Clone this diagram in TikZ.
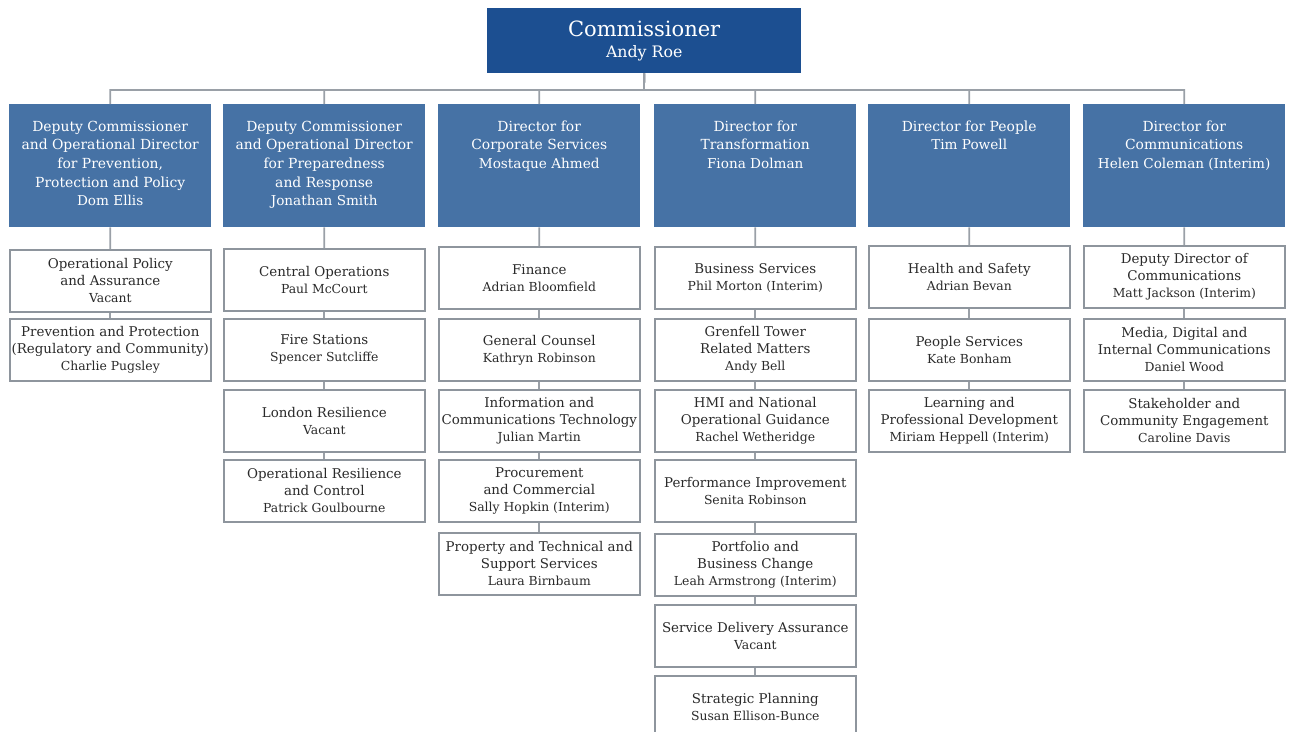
\documentclass[tikz,border=0pt]{standalone}
\usepackage{fontspec}
\setmainfont{DejaVu Serif}
\definecolor{commblue}{HTML}{1C4F91}
\definecolor{dirblue}{HTML}{4672A5}
\definecolor{linegray}{HTML}{9AA0A7}
\definecolor{boxgray}{HTML}{8E959D}
\definecolor{txtgray}{HTML}{2A2A2A}
\newcommand\nm[1]{{\fontsize{12.4}{17}\selectfont #1}}
\newcommand\dnm[1]{{\fontsize{13.6}{18.7}\selectfont #1}}
\begin{document}
\begin{tikzpicture}[x=1pt,y=-1pt,
 commbox/.style={fill=commblue, text=white, minimum width=314, minimum height=65, anchor=north west, inner sep=0, align=center, font=\fontsize{15.8}{21}\selectfont},
 dirbox/.style={fill=dirblue, minimum width=202, minimum height=123, anchor=north west, inner sep=0},
 dirtext/.style={text=white, anchor=north, inner sep=0, align=center, font=\fontsize{13.9}{18.7}\selectfont},
 subbox/.style={draw=boxgray, line width=1.6pt, fill=white, minimum width=201, minimum height=62, anchor=north west, inner sep=0, align=center, text=txtgray, font=\fontsize{13.4}{17}\selectfont},
 link/.style={draw=linegray, line width=1.8pt}]
\useasboundingbox (0,0) rectangle (1292,731);

% Commissioner
\node[commbox] (comm) at (487,8) {{\fontsize{21}{21}\selectfont Commissioner}\\Andy Roe};

% Directors
\node[dirbox] (d1) at (9,104) {};
\node[dirbox] (d2) at (223,104) {};
\node[dirbox] (d3) at (438,104) {};
\node[dirbox] (d4) at (654,104) {};
\node[dirbox] (d5) at (868,104) {};
\node[dirbox] (d6) at (1083,104) {};

\node[dirtext] (d1t) at ([yshift=-16.5]d1.north) {Deputy Commissioner\\and Operational Director\\for Prevention,\\Protection and Policy\\\dnm{Dom Ellis}};
\node[dirtext] (d2t) at ([yshift=-16.5]d2.north) {Deputy Commissioner\\and Operational Director\\for Preparedness\\and Response\\\dnm{Jonathan Smith}};
\node[dirtext] (d3t) at ([yshift=-16.5]d3.north) {Director for\\Corporate Services\\\dnm{Mostaque Ahmed}};
\node[dirtext] (d4t) at ([yshift=-16.5]d4.north) {Director for\\Transformation\\\dnm{Fiona Dolman}};
\node[dirtext] (d5t) at ([yshift=-16.5]d5.north) {Director for People\\\dnm{Tim Powell}};
\node[dirtext] (d6t) at ([yshift=-16.5]d6.north) {Director for\\Communications\\\dnm{Helen Coleman (Interim)}};

% bus
\coordinate (bus) at (644,90);
\foreach \d in {d1,d2,d3,d4,d5,d6}{
  \draw[link] (comm.south) -- (bus) -| (\d.north);
}

% Column 1
\node[subbox] (a1) at (9,249) {Operational Policy\\and Assurance\\\nm{Vacant}};
\node[subbox] (a2) at (9,318) {Prevention and Protection\\(Regulatory and Community)\\\nm{Charlie Pugsley}};
% Column 2
\node[subbox] (b1) at (223,248) {Central Operations\\\nm{Paul McCourt}};
\node[subbox] (b2) at (223,318) {Fire Stations\\\nm{Spencer Sutcliffe}};
\node[subbox] (b3) at (223,389) {London Resilience\\\nm{Vacant}};
\node[subbox] (b4) at (223,459) {Operational Resilience\\and Control\\\nm{Patrick Goulbourne}};
% Column 3
\node[subbox] (c1) at (438,246) {Finance\\\nm{Adrian Bloomfield}};
\node[subbox] (c2) at (438,318) {General Counsel\\\nm{Kathryn Robinson}};
\node[subbox] (c3) at (438,389) {Information and\\Communications Technology\\\nm{Julian Martin}};
\node[subbox] (c4) at (438,459) {Procurement\\and Commercial\\\nm{Sally Hopkin (Interim)}};
\node[subbox] (c5) at (438,532) {Property and Technical and\\Support Services\\\nm{Laura Birnbaum}};
% Column 4
\node[subbox] (e1) at (654,246) {Business Services\\\nm{Phil Morton (Interim)}};
\node[subbox] (e2) at (654,318) {Grenfell Tower\\Related Matters\\\nm{Andy Bell}};
\node[subbox] (e3) at (654,389) {HMI and National\\Operational Guidance\\\nm{Rachel Wetheridge}};
\node[subbox] (e4) at (654,459) {Performance Improvement\\\nm{Senita Robinson}};
\node[subbox] (e5) at (654,533) {Portfolio and\\Business Change\\\nm{Leah Armstrong (Interim)}};
\node[subbox] (e6) at (654,604) {Service Delivery Assurance\\\nm{Vacant}};
\node[subbox] (e7) at (654,675) {Strategic Planning\\\nm{Susan Ellison-Bunce}};
% Column 5
\node[subbox] (f1) at (868,245) {Health and Safety\\\nm{Adrian Bevan}};
\node[subbox] (f2) at (868,318) {People Services\\\nm{Kate Bonham}};
\node[subbox] (f3) at (868,389) {Learning and\\Professional Development\\\nm{Miriam Heppell (Interim)}};
% Column 6
\node[subbox] (g1) at (1083,245) {Deputy Director of\\Communications\\\nm{Matt Jackson (Interim)}};
\node[subbox] (g2) at (1083,318) {Media, Digital and\\Internal Communications\\\nm{Daniel Wood}};
\node[subbox] (g3) at (1083,389) {Stakeholder and\\Community Engagement\\\nm{Caroline Davis}};

% links
\draw[link] (d1.south) -- (a1.north);
\draw[link] (a1.south) -- (a2.north);
\draw[link] (d2.south) -- (b1.north);
\draw[link] (b1.south) -- (b2.north);
\draw[link] (b2.south) -- (b3.north);
\draw[link] (b3.south) -- (b4.north);
\draw[link] (d3.south) -- (c1.north);
\draw[link] (c1.south) -- (c2.north);
\draw[link] (c2.south) -- (c3.north);
\draw[link] (c3.south) -- (c4.north);
\draw[link] (c4.south) -- (c5.north);
\draw[link] (d4.south) -- (e1.north);
\draw[link] (e1.south) -- (e2.north);
\draw[link] (e2.south) -- (e3.north);
\draw[link] (e3.south) -- (e4.north);
\draw[link] (e4.south) -- (e5.north);
\draw[link] (e5.south) -- (e6.north);
\draw[link] (e6.south) -- (e7.north);
\draw[link] (d5.south) -- (f1.north);
\draw[link] (f1.south) -- (f2.north);
\draw[link] (f2.south) -- (f3.north);
\draw[link] (d6.south) -- (g1.north);
\draw[link] (g1.south) -- (g2.north);
\draw[link] (g2.south) -- (g3.north);
\end{tikzpicture}
\end{document}
